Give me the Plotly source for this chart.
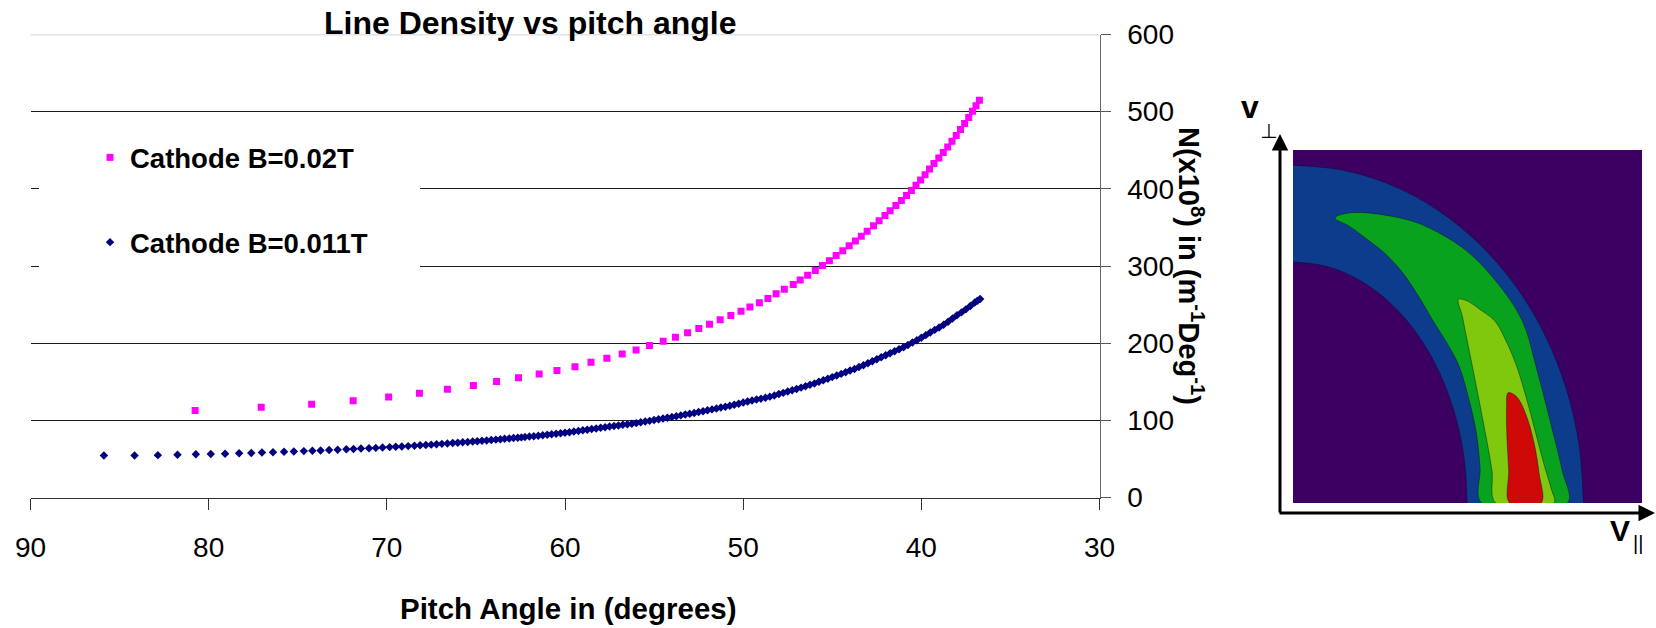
import plotly.graph_objects as go

W, H = 1656, 628

# ---------------- chart data ----------------
pitch_b002 = [80.76, 77.05, 74.22, 71.89, 69.90, 68.17, 66.60, 65.14, 63.84, 62.61,
              61.45, 60.45, 59.44, 58.54, 57.65, 56.79, 56.01, 55.26, 54.49, 53.80,
              53.12, 52.49, 51.89, 51.29, 50.69, 50.12, 49.62, 49.09, 48.61, 48.15,
              47.69, 47.19, 46.80, 46.38, 45.95, 45.55, 45.16, 44.78, 44.41, 44.05,
              43.70, 43.37, 43.04, 42.68, 42.37, 42.04, 41.75, 41.43, 41.12, 40.83,
              40.56, 40.30, 40.04, 39.79, 39.54, 39.29, 39.02, 38.77, 38.52, 38.28,
              38.04, 37.80, 37.57, 37.34, 37.13, 36.93, 36.74]
dens_b002 = [112.6, 117.0, 120.9, 125.5, 130.3, 135.1, 140.2, 145.1, 150.2, 155.1,
             159.9, 164.7, 169.6, 175.2, 180.6, 185.9, 191.0, 196.9, 202.4, 207.7,
             213.4, 218.9, 224.5, 230.2, 235.8, 241.2, 246.9, 252.4, 258.0, 264.0,
             270.0, 276.0, 281.9, 288.0, 294.2, 300.5, 306.9, 313.5, 319.9, 326.3,
             332.3, 338.5, 345.1, 352.3, 358.8, 365.3, 371.7, 378.3, 384.8, 391.3,
             397.9, 404.6, 411.5, 418.4, 425.6, 432.8, 440.0, 447.0, 454.2, 461.6,
             469.2, 476.9, 484.7, 492.6, 500.5, 507.8, 514.7]

pitch_b0011 = [85.88, 84.16, 82.85, 81.75, 80.72, 79.88, 79.08, 78.29, 77.61, 77.01,
               76.39, 75.77, 75.22, 74.66, 74.18, 73.72, 73.24, 72.76, 72.27, 71.87,
               71.45, 71.00, 70.62, 70.24, 69.84, 69.50, 69.16, 68.80, 68.45, 68.13,
               67.81, 67.51, 67.21, 66.91, 66.60, 66.30, 66.02, 65.74, 65.46, 65.18,
               64.92, 64.66, 64.40, 64.14, 63.88, 63.63, 63.39, 63.13, 62.89, 62.65,
               62.45, 62.25, 62.00, 61.75, 61.50, 61.25, 61.00, 60.75, 60.50, 60.25,
               60.00, 59.75, 59.50, 59.25, 59.00, 58.75, 58.50, 58.25, 58.00, 57.75,
               57.50, 57.25, 57.00, 56.75, 56.50, 56.25, 56.00, 55.75, 55.50, 55.25,
               55.00, 54.75, 54.50, 54.25, 54.00, 53.75, 53.50, 53.25, 53.00, 52.75,
               52.50, 52.25, 52.00, 51.75, 51.50, 51.25, 51.00, 50.75, 50.50, 50.25,
               50.00, 49.75, 49.50, 49.25, 49.00, 48.75, 48.50, 48.25, 48.00, 47.75,
               47.50, 47.25, 47.00, 46.75, 46.50, 46.25, 46.00, 45.75, 45.50, 45.25,
               45.00, 44.75, 44.50, 44.25, 44.00, 43.75, 43.50, 43.25, 43.00, 42.75,
               42.50, 42.25, 42.00, 41.75, 41.50, 41.25, 41.00, 40.75, 40.50, 40.25,
               40.00, 39.75, 39.50, 39.25, 39.00, 38.75, 38.50, 38.25, 38.00, 37.75,
               37.50, 37.25, 37.00, 36.85, 36.70]
dens_b0011 = [54.3, 54.5, 54.9, 55.4, 56.0, 56.4, 56.8, 57.3, 57.8, 58.2,
              58.7, 59.2, 59.6, 60.1, 60.6, 61.0, 61.5, 62.0, 62.5, 62.9,
              63.4, 63.9, 64.3, 64.8, 65.3, 65.7, 66.2, 66.6, 67.1, 67.6,
              68.1, 68.5, 69.0, 69.5, 70.0, 70.5, 71.0, 71.5, 72.0, 72.5,
              73.0, 73.5, 74.0, 74.5, 75.0, 75.5, 76.0, 76.5, 77.0, 77.5,
              77.9, 78.5, 79.0, 79.5, 80.0, 80.6, 81.3, 81.9, 82.6, 83.2,
              83.9, 84.6, 85.4, 86.3, 87.1, 87.9, 88.7, 89.5, 90.3, 91.1,
              91.9, 92.6, 93.4, 94.2, 94.9, 95.7, 96.4, 97.4, 98.4, 99.3,
              100.3, 101.3, 102.3, 103.3, 104.3, 105.4, 106.4, 107.5, 108.6, 109.6,
              110.8, 111.9, 113.1, 114.2, 115.4, 116.5, 117.7, 118.9, 120.2, 121.6,
              123.0, 124.4, 125.7, 126.9, 128.1, 129.3, 130.7, 132.3, 134.0, 135.6,
              137.3, 139.0, 140.7, 142.4, 144.2, 146.0, 147.8, 149.9, 151.9, 154.0,
              156.0, 158.1, 160.2, 162.4, 164.5, 166.6, 169.0, 171.5, 174.0, 176.6,
              179.2, 181.7, 184.3, 186.8, 189.4, 192.0, 194.7, 197.7, 200.8, 203.9,
              207.1, 210.4, 213.9, 217.2, 220.4, 224.0, 227.7, 231.9, 236.1, 239.9,
              243.8, 248.2, 252.6, 255.0, 257.2]

x_ticks = [90, 80, 70, 60, 50, 40, 30]
y_ticks = [0, 100, 200, 300, 400, 500, 600]

# ---------------- inset schematic (normalised v_par, v_perp) ----------------
box_u = [0, 1, 1, 0, 0]
box_v = [0, 0, 1, 1, 0]
blue_outer_u = [0, 0.1445, 0.2846, 0.416, 0.5348, 0.6373, 0.7205, 0.7818, 0.8194, 0.832]
blue_outer_v = [0.957, 0.9425, 0.8993, 0.8288, 0.7331, 0.6151, 0.4785, 0.3273, 0.1662, 0]
blue_inner_u = [0, 0.0867, 0.1707, 0.2495, 0.3208, 0.3823, 0.4321, 0.4689, 0.4914, 0.499]
blue_inner_v = [0.683, 0.6726, 0.6418, 0.5915, 0.5232, 0.439, 0.3415, 0.2336, 0.1186, 0]
green_u = [0.12, 0.14, 0.19, 0.26, 0.358, 0.49, 0.58, 0.656, 0.699, 0.736, 0.771, 0.787,
           0.54, 0.536, 0.525, 0.505, 0.475, 0.44, 0.405, 0.36, 0.312, 0.26, 0.215, 0.16, 0.12]
green_v = [0.807, 0.818, 0.823, 0.816, 0.793, 0.72, 0.63, 0.518, 0.377, 0.235, 0.093, 0,
           0, 0.1, 0.2, 0.29, 0.39, 0.455, 0.51, 0.585, 0.655, 0.71, 0.745, 0.785, 0.807]
lgreen_u = [0.474, 0.50, 0.536, 0.579, 0.61, 0.64, 0.668, 0.695, 0.722, 0.74, 0.748,
            0.581, 0.57, 0.544, 0.516, 0.497, 0.485, 0.474]
lgreen_v = [0.577, 0.572, 0.548, 0.515, 0.46, 0.39, 0.30, 0.20, 0.10, 0.04, 0,
            0, 0.093, 0.235, 0.377, 0.47, 0.53, 0.577]
red_u = [0.616, 0.632, 0.648, 0.673, 0.693, 0.705, 0.711, 0.621, 0.618, 0.613, 0.612, 0.616]
red_v = [0.312, 0.308, 0.292, 0.235, 0.159, 0.085, 0, 0, 0.093, 0.187, 0.27, 0.312]

C_PURPLE, C_BLUE, C_GREEN, C_LGREEN, C_RED = "#3b0062", "#0d3c8c", "#08a21f", "#7fc80e", "#cf0808"
FONT = "Liberation Sans, Arial, sans-serif"


def px(x):
    return x / W


def py(y):
    return 1 - y / H


fig = go.Figure()
fig.add_trace(go.Scatter(x=pitch_b002, y=dens_b002, mode="markers", name="<b>Cathode B=0.02T</b>",
                         legendgroup="a", hoverinfo="skip",
                         marker=dict(symbol="square", size=7, color="#FF00FF", line=dict(width=0))))
fig.add_trace(go.Scatter(x=pitch_b0011, y=dens_b0011, mode="markers", name="<b>Cathode B=0.011T</b>",
                         legendgroup="b", hoverinfo="skip",
                         marker=dict(symbol="diamond", size=6.5, color="#000080", line=dict(width=0))))

edge = dict(color="rgba(10,10,30,0.55)", width=0.8)
ins = dict(xaxis="x2", yaxis="y2", showlegend=False, hoverinfo="skip")
fig.add_trace(go.Scatter(x=box_u, y=box_v, fill="toself", fillcolor=C_PURPLE, mode="lines",
                         line=dict(width=0, color=C_PURPLE), **ins))
fig.add_trace(go.Scatter(x=blue_outer_u, y=blue_outer_v, fill="tozeroy", fillcolor=C_BLUE, mode="lines",
                         line=dict(shape="spline", **edge), **ins))
fig.add_trace(go.Scatter(x=blue_inner_u, y=blue_inner_v, fill="tozeroy", fillcolor=C_PURPLE, mode="lines",
                         line=dict(shape="spline", **edge), **ins))
fig.add_trace(go.Scatter(x=green_u, y=green_v, fill="toself", fillcolor=C_GREEN, mode="lines",
                         line=dict(shape="spline", **edge), **ins))
fig.add_trace(go.Scatter(x=lgreen_u, y=lgreen_v, fill="toself", fillcolor=C_LGREEN, mode="lines",
                         line=dict(shape="spline", **edge), **ins))
fig.add_trace(go.Scatter(x=red_u, y=red_v, fill="toself", fillcolor=C_RED, mode="lines",
                         line=dict(shape="spline", **edge), **ins))

fig.update_layout(
    template="none",
    width=W, height=H, autosize=False,
    margin=dict(l=0, r=0, t=0, b=0, pad=0),
    paper_bgcolor="white", plot_bgcolor="white",
    font=dict(family=FONT, color="black"),
    xaxis=dict(domain=[px(30.5), px(1099.5)], range=[90, 30], tickvals=x_ticks, automargin=False,
               ticks="outside", ticklen=11, tickcolor="#333", tickwidth=1,
               showline=True, linecolor="#333", linewidth=1, showgrid=False, zeroline=False,
               tickfont=dict(size=28, family=FONT, color="black"), ticklabelstandoff=14,
               anchor="y", fixedrange=True),
    yaxis=dict(domain=[py(497.5), py(34.5)], range=[0, 600], tickvals=y_ticks, side="right",
               automargin=False,
               ticks="outside", ticklen=10, tickcolor="#555", tickwidth=1,
               showline=True, linecolor="#666", linewidth=1.2,
               showgrid=True, gridcolor="#1e1e1e", gridwidth=1, zeroline=False,
               tickfont=dict(size=28, family=FONT, color="black"), ticklabelstandoff=11,
               anchor="x", fixedrange=True),
    xaxis2=dict(domain=[px(1293), px(1642)], range=[0, 1], visible=False, anchor="y2",
                automargin=False, fixedrange=True),
    yaxis2=dict(domain=[py(503), py(150)], range=[0, 1], visible=False, anchor="x2",
                automargin=False, fixedrange=True),
    legend=dict(x=px(90), y=py(133), xanchor="left", yanchor="top", bgcolor="rgba(0,0,0,0)",
                font=dict(size=27.5, family=FONT, color="black"), traceorder="grouped",
                tracegroupgap=46, borderwidth=0),
    shapes=[
        # top gridline (drawn light, as in the reference)
        dict(type="line", xref="x domain", yref="y", x0=0, x1=1, y0=y_ticks[-1], y1=y_ticks[-1],
             line=dict(color="#c8c8c8", width=1.5), layer="below"),
        # white legend box hiding gridlines
        dict(type="rect", xref="paper", yref="paper", x0=px(39), x1=px(420), y0=py(300), y1=py(125),
             fillcolor="white", line=dict(width=0), layer="above"),
    ],
    showlegend=True,
)

ann = [
    dict(text="<b>Line Density vs pitch angle</b>", x=px(530), y=py(22.5), font=dict(size=32)),
    dict(text="<b>Pitch Angle in (degrees)</b>", x=px(568), y=py(608), font=dict(size=29.5)),
    dict(text="<b>N(x10<sup>8</sup>) in (m<sup>-1</sup>Deg<sup>-1</sup>)</b>", x=px(1191), y=py(266),
         textangle=90, font=dict(size=29)),
    dict(text="<b>v</b>", x=px(1250), y=py(107), font=dict(size=32)),
    dict(text="⊥", x=px(1268), y=py(131), font=dict(size=20, family="DejaVu Sans")),
    dict(text="<b>V</b>", x=px(1620), y=py(530), font=dict(size=30)),
    dict(text="||", x=px(1638), y=py(543), font=dict(size=20)),
]
for a in ann:
    a.update(xref="paper", yref="paper", showarrow=False, xanchor="center", yanchor="middle")
    a["font"] = dict(family=a["font"].get("family", FONT), size=a["font"]["size"], color="black")

# inset axis arrows
ann.append(dict(xref="paper", yref="paper", x=px(1280), y=py(134), ax=0, ay=380, axref="pixel", ayref="pixel",
                showarrow=True, arrowhead=2, arrowsize=1.1, arrowwidth=3, arrowcolor="black", text="", standoff=0))
ann.append(dict(xref="paper", yref="paper", x=px(1655), y=py(513), ax=-377, ay=0, axref="pixel", ayref="pixel",
                showarrow=True, arrowhead=2, arrowsize=1.1, arrowwidth=3, arrowcolor="black", text="", standoff=0))
fig.update_layout(annotations=ann)

fig.write_html("out.html", config={"displayModeBar": False, "staticPlot": True},
               post_script="document.body.style.margin='0';document.body.style.overflow='hidden';")
